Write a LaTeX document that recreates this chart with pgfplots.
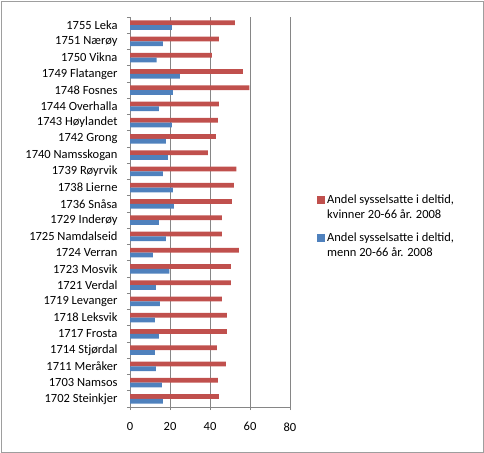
\documentclass[border=0pt]{standalone}
\usepackage{pgfplots}
\pgfplotsset{compat=1.18}
\usepackage{fontspec}
\setmainfont{Carlito}
\definecolor{kv}{HTML}{C0504D}
\definecolor{mn}{HTML}{4F81BD}
\definecolor{gridc}{HTML}{868686}

% share of part-time employed, women and men 20-66, 2008
\pgfplotstableread{
idx kvinner menn
0  44.5 16.5
1  44.0 16.0
2  48.0 13.0
3  43.5 12.5
4  48.5 14.5
5  48.5 12.5
6  46.0 15.0
7  50.5 13.0
8  50.5 19.7
9  54.5 11.5
10 46.0 18.0
11 46.0 14.5
12 51.0 22.0
13 52.0 21.5
14 53.2 16.5
15 39.0 19.0
16 43.0 18.0
17 44.0 21.0
18 44.5 14.5
19 59.7 21.5
20 56.5 25.0
21 41.0 13.3
22 44.5 16.5
23 52.5 21.0
}\deltid

\begin{document}
\begin{tikzpicture}
\useasboundingbox (0,0) rectangle (484bp,453bp);
\draw[color=gridc!80, line width=0.8bp] (1bp,1bp) rectangle (483bp,452bp);
\begin{axis}[
  at={(130bp,46bp)}, anchor=south west,
  scale only axis, width=160bp, height=390bp,
  xmin=0, xmax=80, ymin=-0.5, ymax=23.5,
  xbar, bar width=4.8bp,
  axis x line*=bottom, axis y line*=left,
  axis line style={color=gridc, line width=0.6bp},
  xtick={0,20,...,80},
  /pgf/number format/assume math mode=true,
  xmajorgrids, major grid style={color=gridc, line width=0.6bp},
  tick align=outside, major tick length=3bp,
  tick style={color=gridc, line width=0.6bp},
  ytick={-0.5,0.5,...,23.5}, yticklabels={},
  extra y ticks={0,...,23},
  extra y tick style={major tick length=0pt, ymajorgrids=false},
  extra y tick labels={1702 Steinkjer,1703 Namsos,1711 Meråker,1714 Stjørdal,1717 Frosta,1718 Leksvik,1719 Levanger,1721 Verdal,1723 Mosvik,1724 Verran,1725 Namdalseid,1729 Inderøy,1736 Snåsa,1738 Lierne,1739 Røyrvik,1740 Namsskogan,1742 Grong,1743 Høylandet,1744 Overhalla,1748 Fosnes,1749 Flatanger,1750 Vikna,1751 Nærøy,1755 Leka},
  ticklabel style={font=\fontsize{12.5bp}{15bp}\selectfont, text=black},
  yticklabel style={xshift=-9bp},
  xticklabel style={yshift=-9bp},
  legend style={at={(axis description cs:1,0.463)}, anchor=west, xshift=27bp,
    draw=none, fill=none, inner sep=0pt, row sep=8bp,
    font=\fontsize{12.5bp}{15bp}\selectfont, cells={align=left, anchor=west}},
  legend image code/.code={\fill[#1] (0bp,3.5bp) rectangle (8bp,11.5bp);},
]
\addplot[draw=none, fill=kv, bar shift=2.4bp] table[x=kvinner, y=idx] {\deltid};
\addlegendentry{Andel sysselsatte i deltid,\\kvinner 20-66 år. 2008}
\addplot[draw=none, fill=mn, bar shift=-2.4bp] table[x=menn, y=idx] {\deltid};
\addlegendentry{Andel sysselsatte i deltid,\\menn 20-66 år. 2008}
\end{axis}
\end{tikzpicture}
\end{document}
